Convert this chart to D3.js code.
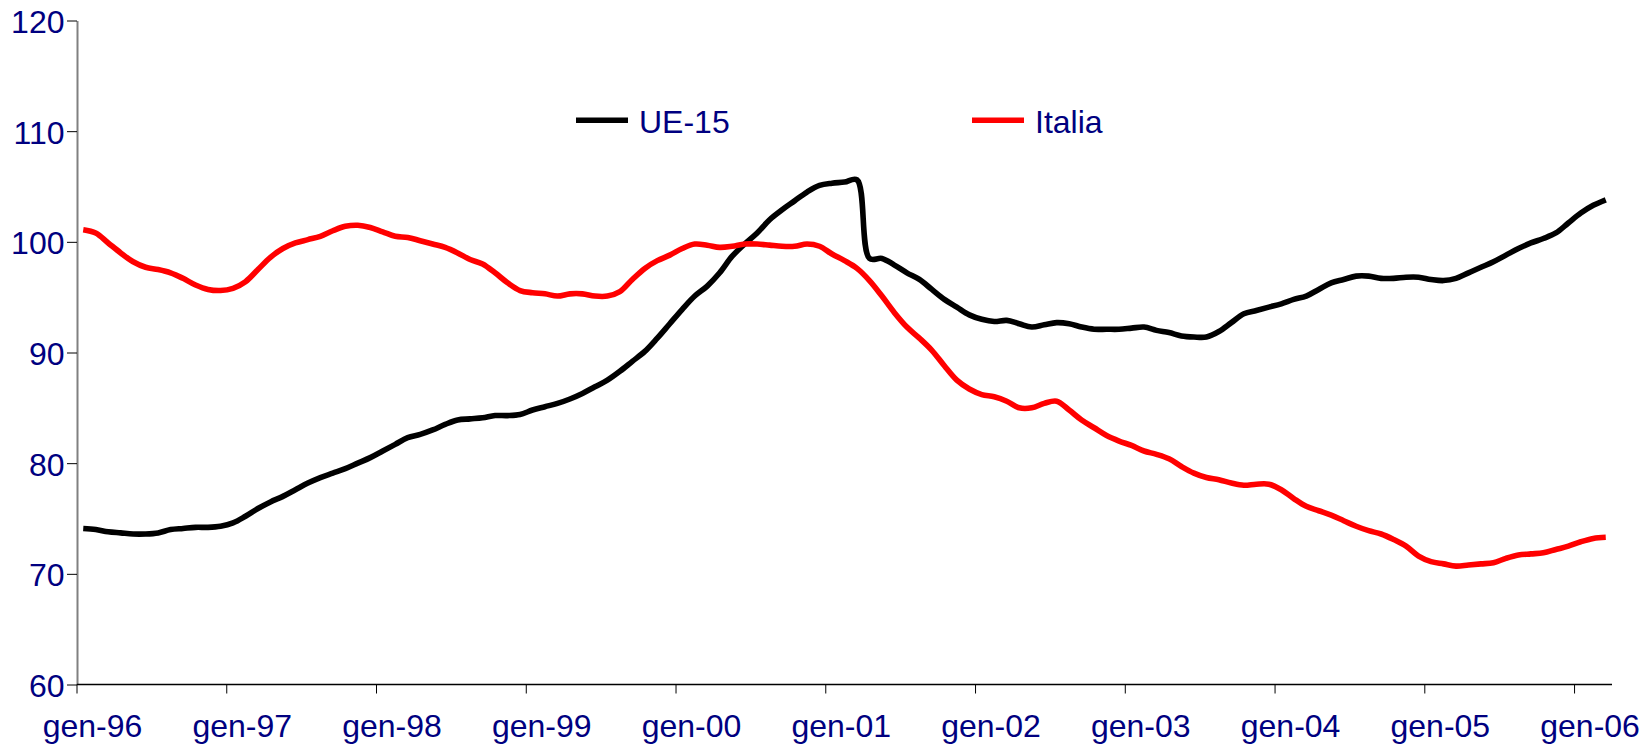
<!DOCTYPE html>
<html>
<head>
<meta charset="utf-8">
<script src="https://cdn.jsdelivr.net/npm/d3@7"></script>
<style>
  html, body { margin: 0; padding: 0; background: #fff; }
  text { font-family: "Liberation Sans", Arial, sans-serif; fill: #000080; }
</style>
</head>
<body>
<div id="chart"></div>
<script>
// monthly index, gen-96 .. mar-06
var mesi = ["gen", "feb", "mar", "apr", "mag", "giu", "lug", "ago", "set", "ott", "nov", "dic"]
var anni = ["96", "97", "98", "99", "00", "01", "02", "03", "04", "05", "06"]

var ue15 = [
  74.1, 74.0, 73.8, 73.7, 73.6, 73.6, 73.7, 74.0, 74.1, 74.2, 74.2, 74.3,
  74.6, 75.2, 75.9, 76.5, 77.0, 77.6, 78.2, 78.7, 79.1, 79.5, 80.0, 80.5,
  81.1, 81.7, 82.3, 82.6, 83.0, 83.5, 83.9, 84.0, 84.1, 84.3, 84.3, 84.4,
  84.8, 85.1, 85.4, 85.8, 86.3, 86.9, 87.5, 88.3, 89.2, 90.1, 91.3, 92.6,
  93.9, 95.1, 96.0, 97.2, 98.7, 99.8, 100.8, 102.0, 102.9, 103.7, 104.5, 105.1,
  105.3, 105.4, 105.6, 98.5, 98.5, 97.9, 97.2, 96.6, 95.7, 94.8, 94.1, 93.4,
  93.0, 92.8, 92.9, 92.6, 92.3, 92.5, 92.7, 92.6, 92.3, 92.1, 92.1, 92.1,
  92.2, 92.3, 92.0, 91.8, 91.5, 91.4, 91.4, 91.9, 92.7, 93.5, 93.8, 94.1,
  94.4, 94.8, 95.1, 95.7, 96.3, 96.6, 96.9, 96.9, 96.7, 96.7, 96.8, 96.8,
  96.6, 96.5, 96.7, 97.2, 97.7, 98.2, 98.8, 99.4, 99.9, 100.3, 100.8, 101.7,
  102.6, 103.3, 103.8
]

var italia = [
  101.1, 100.8, 99.9, 99.0, 98.2, 97.7, 97.5, 97.2, 96.7, 96.1, 95.7, 95.6,
  95.8, 96.4, 97.5, 98.6, 99.4, 99.9, 100.2, 100.5, 101.0, 101.4, 101.5, 101.3,
  100.9, 100.5, 100.4, 100.1, 99.8, 99.5, 99.0, 98.4, 98.0, 97.2, 96.3, 95.6,
  95.4, 95.3, 95.1, 95.3, 95.3, 95.1, 95.1, 95.5, 96.6, 97.6, 98.3, 98.8,
  99.4, 99.8, 99.7, 99.5, 99.6, 99.8, 99.8, 99.7, 99.6, 99.6, 99.8, 99.6,
  98.9, 98.3, 97.6, 96.5, 95.1, 93.6, 92.3, 91.3, 90.2, 88.8, 87.5, 86.7,
  86.2, 86.0, 85.6, 85.0, 85.0, 85.4, 85.6, 84.8, 83.9, 83.2, 82.5, 82.0,
  81.6, 81.1, 80.8, 80.4, 79.7, 79.1, 78.7, 78.5, 78.2, 78.0, 78.1, 78.1,
  77.6, 76.8, 76.1, 75.7, 75.3, 74.8, 74.3, 73.9, 73.6, 73.1, 72.5, 71.6,
  71.1, 70.9, 70.7, 70.8, 70.9, 71.0, 71.4, 71.7, 71.8, 71.9, 72.2, 72.5,
  72.9, 73.2, 73.3
]

var y_ticks = [60, 70, 80, 90, 100, 110, 120]
var serie = [
  {name: "UE-15", values: ue15, color: "#000000"},
  {name: "Italia", values: italia, color: "#ff0000"}
]

// category labels, one per month
var categorie = []
anni.forEach(function(a) {
  mesi.forEach(function(m) { categorie.push(m + "-" + a) })
})
categorie = categorie.slice(0, ue15.length)

var width = 1648
var height = 747
var margin = {top: 20.5, right: 36, bottom: 62.5, left: 77}
var fontSize = 32

var svg = d3.select("#chart")
  .append("svg")
    .attr("width", width)
    .attr("height", height)

// Excel style category axis: points in the middle of each month
var xScale = d3.scaleBand()
  .domain(categorie)
  .range([margin.left, width - margin.right])
var yScale = d3.scaleLinear()
  .domain([60, 120])
  .range([height - margin.bottom, margin.top])

var x_center = function(c) { return xScale(c) + xScale.bandwidth() / 2 }

// y axis
var yAxis = svg.append("g")
  .attr("transform", "translate(" + margin.left + ",0)")
  .call(d3.axisLeft(yScale).tickValues(y_ticks).tickSize(10).tickPadding(2.5).tickSizeOuter(0))
yAxis.select(".domain").attr("stroke", "#808080").attr("stroke-width", 2)
yAxis.selectAll(".tick line").attr("stroke", "#000")
yAxis.selectAll("text")
  .style("font-size", fontSize + "px")
  .attr("fill", "#000080")
  .attr("dy", "0.37em")

// x axis, one tick every january
var gennai = categorie.filter(function(c) { return c.indexOf("gen-") == 0 })
var xAxis = svg.append("g")
  .attr("transform", "translate(0," + (height - margin.bottom) + ")")
  .call(d3.axisBottom(xScale).tickValues(gennai).tickSize(9).tickSizeOuter(0))
xAxis.selectAll(".tick").attr("transform", function(d) { return "translate(" + xScale(d) + ",0)" })
xAxis.select(".domain").attr("stroke", "#000").attr("stroke-width", 1.5)
  .attr("d", "M" + margin.left + ",0H" + (width - margin.right))
xAxis.selectAll("text")
  .style("font-size", fontSize + "px")
  .attr("fill", "#000080")
  .attr("x", 15.5)
  .attr("y", 52.2)
  .attr("dy", "0")

var line = d3.line()
  .x(function(d, i) { return x_center(categorie[i]) })
  .y(function(d) { return yScale(d) })
  .curve(d3.curveCatmullRom.alpha(0.5))

svg.append("g").selectAll("path")
  .data(serie)
  .enter()
    .append("path")
    .attr("fill", "none")
    .attr("stroke", function(d) { return d.color })
    .attr("stroke-width", 5.6)
    .attr("stroke-linejoin", "round")
    .attr("d", function(d) { return line(d.values) })

// legend
var legend_x = [576, 972]
var legend = svg.append("g").selectAll("g")
  .data(serie)
  .enter()
    .append("g")
    .attr("transform", function(d, i) { return "translate(" + legend_x[i] + ",120.3)" })
legend.append("line")
  .attr("x1", 0).attr("x2", 52)
  .attr("stroke", function(d) { return d.color })
  .attr("stroke-width", 5.6)
legend.append("text")
  .attr("x", 63)
  .attr("y", 12.4)
  .style("font-size", fontSize + "px")
  .text(function(d) { return d.name })
</script>
</body>
</html>
